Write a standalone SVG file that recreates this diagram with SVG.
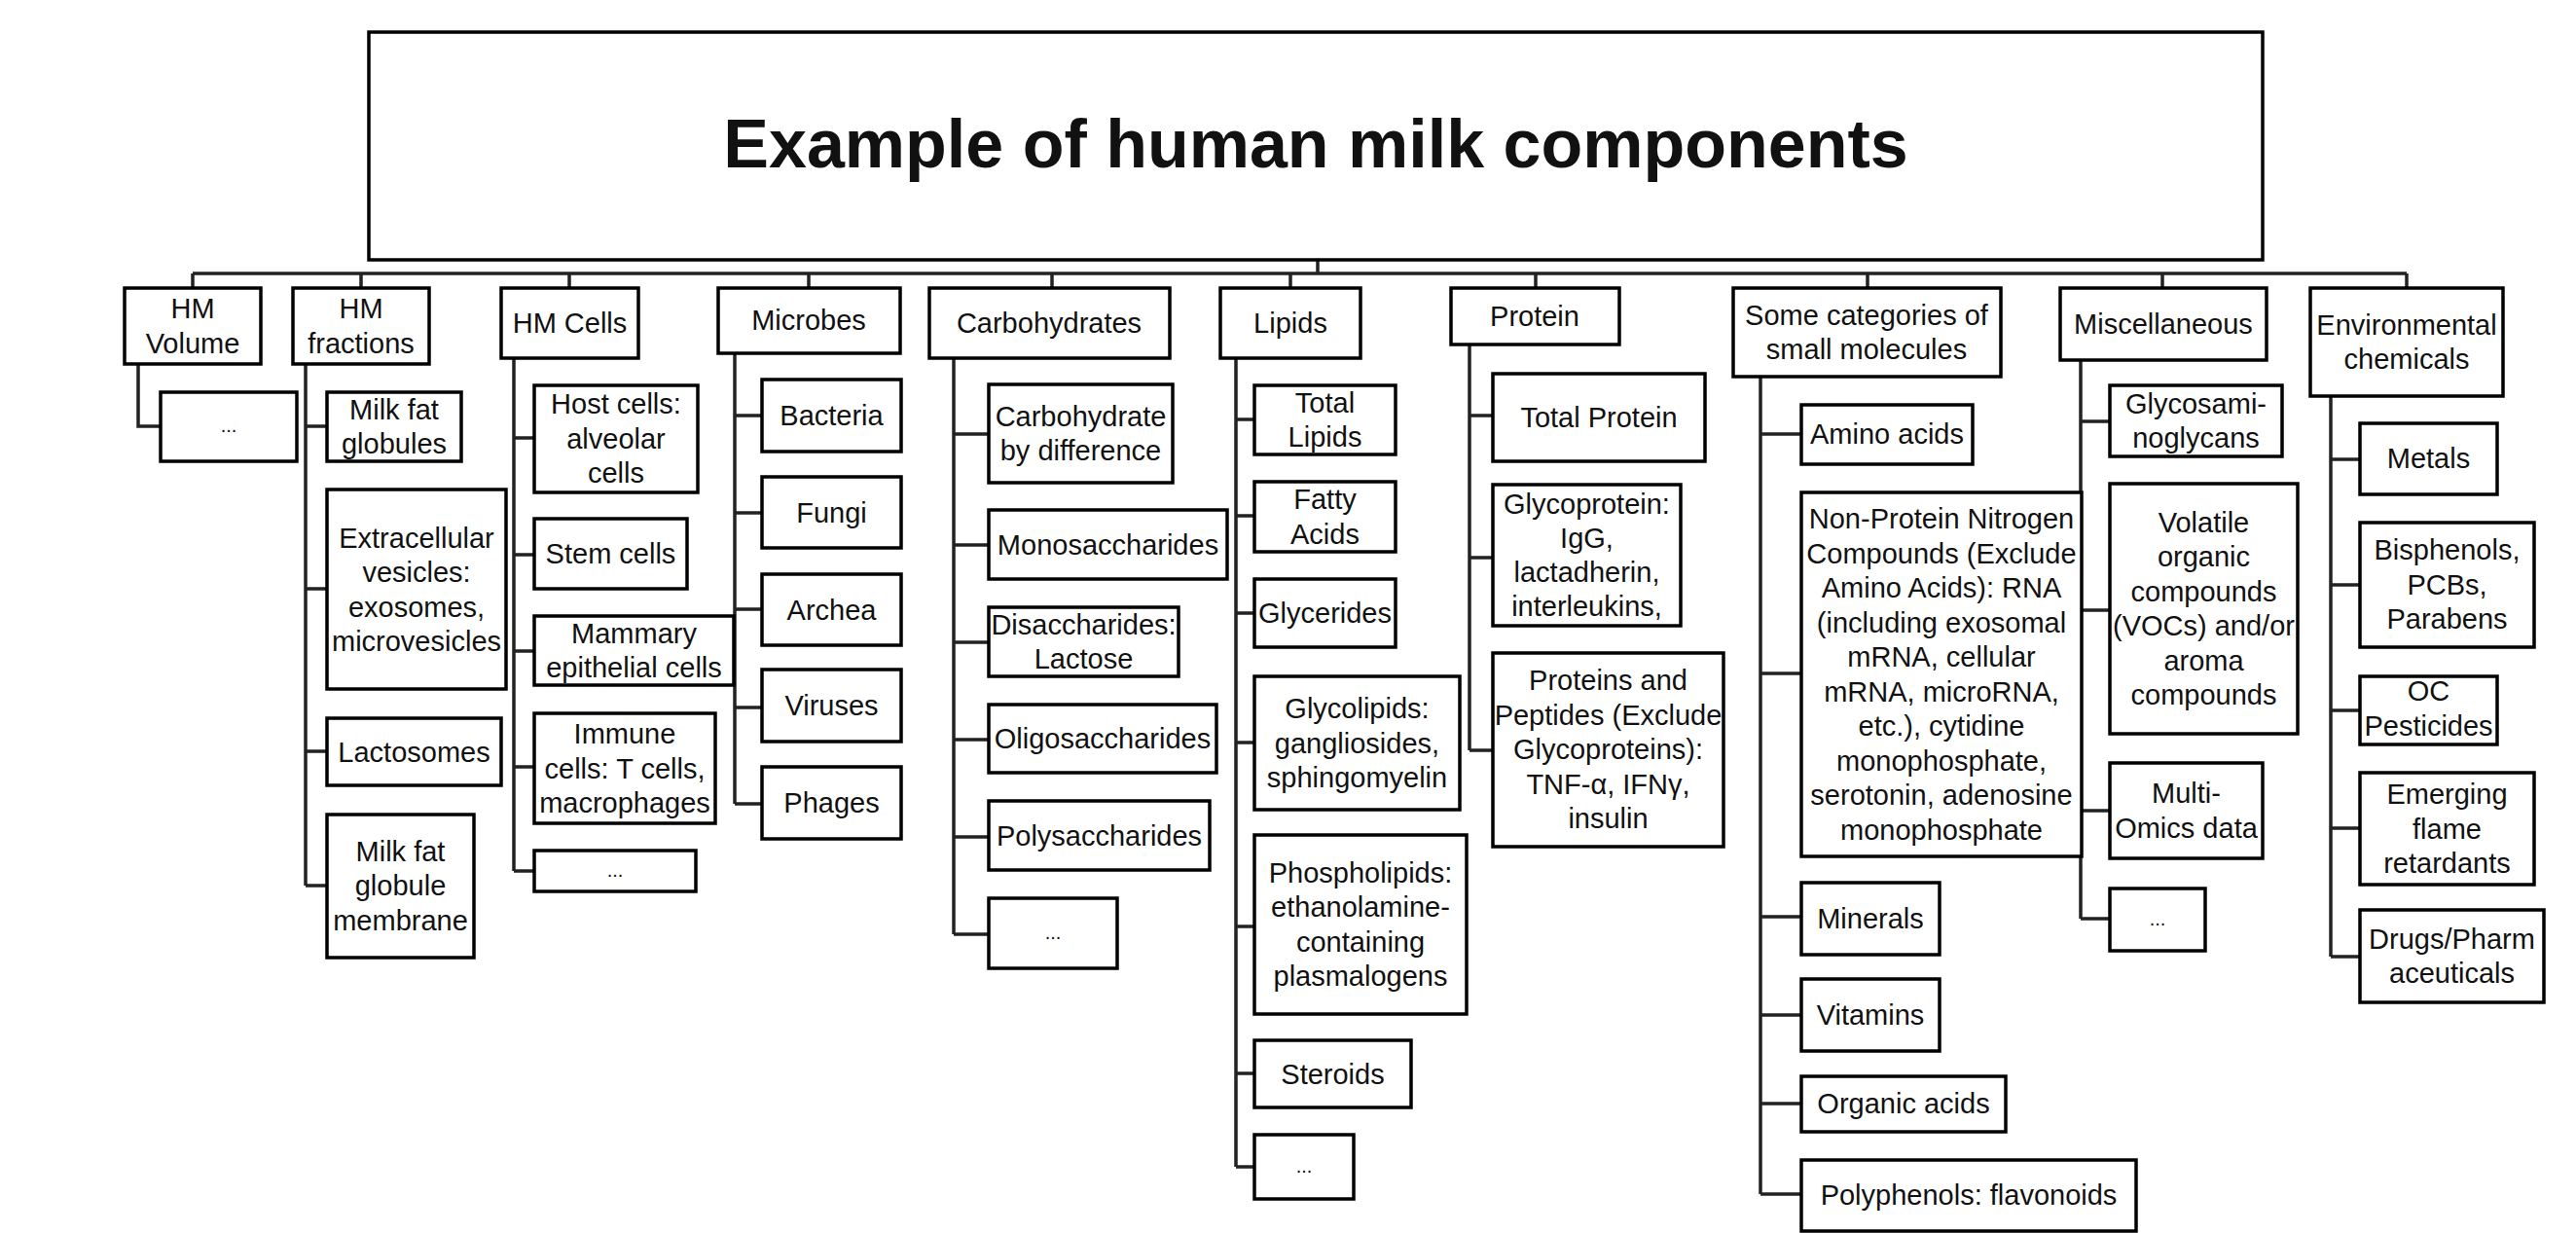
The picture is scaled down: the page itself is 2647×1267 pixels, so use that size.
<svg xmlns="http://www.w3.org/2000/svg" width="2647" height="1267" viewBox="0 0 2647 1267">
<style>
rect{fill:#fff;stroke:#000;stroke-width:3.5}
text{font-family:"Liberation Sans",Arial,sans-serif;font-size:29px;fill:#111;text-anchor:middle}
.title{font-size:70px;font-weight:bold}
.dots{font-size:20px}
#connectors path{fill:none;stroke:#222;stroke-width:3.5}
</style>
<rect width="2647" height="1267" style="fill:#fff;stroke:none"/>
<g id="connectors">
<path d="M1354 267V281M198 281H2473"/>
<path d="M198 281V296M371 281V296M585 281V296M831 281V296M1081 281V296M1326 281V296M1578 281V296M1919 281V296M2222 281V296M2473 281V296"/>
<path d="M142 374V438H165"/>
<path d="M314 374V910M314 438H336M314 605H336M314 772H336M314 910H336"/>
<path d="M528 368V895M528 450H549M528 570H549M528 669H549M528 788H549M528 895H549"/>
<path d="M755 363V826M755 427H783M755 527H783M755 626H783M755 727H783M755 826H783"/>
<path d="M980 368V960M980 446H1016M980 560H1016M980 660H1016M980 760H1016M980 860H1016M980 960H1016"/>
<path d="M1270 368V1199M1270 431H1289M1270 530H1289M1270 630H1289M1270 763H1289M1270 952H1289M1270 1103H1289M1270 1199H1289"/>
<path d="M1510 354V771M1510 427H1534M1510 573H1534M1510 771H1534"/>
<path d="M1809 387V1227M1809 446H1851M1809 692H1851M1809 942H1851M1809 1043H1851M1809 1134H1851M1809 1227H1851"/>
<path d="M2138 370V944M2138 433H2168M2138 627H2168M2138 833H2168M2138 944H2168"/>
<path d="M2395 407V983M2395 472H2425M2395 601H2425M2395 730H2425M2395 851H2425M2395 983H2425"/>
</g>
<g id="title"><rect x="379" y="33" width="1946" height="234"/><text class="title" x="1352" y="172">Example of human milk components</text></g>

<g id="hm-volume"><rect x="128" y="296" width="140" height="78"/><text x="198" y="327">HM</text><text x="198" y="363">Volume</text></g>
<g id="hm-fractions"><rect x="301" y="296" width="140" height="78"/><text x="371" y="327">HM</text><text x="371" y="363">fractions</text></g>
<g id="hm-cells"><rect x="515" y="296" width="141" height="72"/><text x="585.5" y="342">HM Cells</text></g>
<g id="microbes"><rect x="738" y="296" width="187" height="67"/><text x="831" y="339">Microbes</text></g>
<g id="carbohydrates"><rect x="955" y="296" width="247" height="72"/><text x="1078" y="342">Carbohydrates</text></g>
<g id="lipids"><rect x="1254" y="296" width="144" height="72"/><text x="1326" y="342">Lipids</text></g>
<g id="protein"><rect x="1491" y="296" width="173" height="58"/><text x="1577" y="335">Protein</text></g>
<g id="small-molecules"><rect x="1781" y="296" width="275" height="91"/><text x="1918" y="334">Some categories of</text><text x="1918" y="369">small molecules</text></g>
<g id="miscellaneous"><rect x="2117" y="296" width="212" height="74"/><text x="2223" y="343">Miscellaneous</text></g>
<g id="environmental"><rect x="2374" y="296" width="198" height="111"/><text x="2473" y="344">Environmental</text><text x="2473" y="379">chemicals</text></g>

<g id="hmv-more"><rect x="165" y="403" width="140" height="71"/><text class="dots" x="235" y="444">...</text></g>

<g id="milk-fat-globules"><rect x="336" y="403" width="138" height="71"/><text x="405" y="431">Milk fat</text><text x="405" y="466">globules</text></g>
<g id="extracellular-vesicles"><rect x="336" y="503" width="184" height="205"/><text x="428" y="563">Extracellular</text><text x="428" y="598">vesicles:</text><text x="428" y="634">exosomes,</text><text x="428" y="669">microvesicles</text></g>
<g id="lactosomes"><rect x="336" y="738" width="179" height="69"/><text x="425.5" y="783">Lactosomes</text></g>
<g id="mfgm"><rect x="336" y="837" width="151" height="147"/><text x="411.5" y="885">Milk fat</text><text x="411.5" y="920">globule</text><text x="411.5" y="956">membrane</text></g>

<g id="host-cells"><rect x="549" y="396" width="168" height="110"/><text x="633" y="425">Host cells:</text><text x="633" y="461">alveolar</text><text x="633" y="496">cells</text></g>
<g id="stem-cells"><rect x="549" y="533" width="157" height="72"/><text x="627.5" y="579">Stem cells</text></g>
<g id="mammary"><rect x="549" y="633" width="205" height="71"/><text x="651.5" y="661">Mammary</text><text x="651.5" y="696">epithelial cells</text></g>
<g id="immune"><rect x="549" y="733" width="186" height="113"/><text x="642" y="764">Immune</text><text x="642" y="800">cells: T cells,</text><text x="642" y="835">macrophages</text></g>
<g id="cells-more"><rect x="549" y="874" width="166" height="42"/><text class="dots" x="632" y="901">...</text></g>

<g id="bacteria"><rect x="783" y="390" width="143" height="74"/><text x="854.5" y="437">Bacteria</text></g>
<g id="fungi"><rect x="783" y="490" width="143" height="73"/><text x="854.5" y="537">Fungi</text></g>
<g id="archea"><rect x="783" y="590" width="143" height="73"/><text x="854.5" y="637">Archea</text></g>
<g id="viruses"><rect x="783" y="688" width="143" height="74"/><text x="854.5" y="735">Viruses</text></g>
<g id="phages"><rect x="783" y="788" width="143" height="74"/><text x="854.5" y="835">Phages</text></g>

<g id="carb-diff"><rect x="1016" y="395" width="189" height="101"/><text x="1110.5" y="438">Carbohydrate</text><text x="1110.5" y="473">by difference</text></g>
<g id="mono"><rect x="1016" y="524" width="245" height="71"/><text x="1138.5" y="570">Monosaccharides</text></g>
<g id="di"><rect x="1016" y="624" width="195" height="71"/><text x="1113.5" y="652">Disaccharides:</text><text x="1113.5" y="687">Lactose</text></g>
<g id="oligo"><rect x="1016" y="724" width="234" height="70"/><text x="1133" y="769">Oligosaccharides</text></g>
<g id="poly"><rect x="1016" y="823" width="227" height="71"/><text x="1129.5" y="869">Polysaccharides</text></g>
<g id="carb-more"><rect x="1016" y="923" width="132" height="72"/><text class="dots" x="1082" y="965">...</text></g>

<g id="total-lipids"><rect x="1289" y="396" width="145" height="71"/><text x="1361.5" y="424">Total</text><text x="1361.5" y="459">Lipids</text></g>
<g id="fatty-acids"><rect x="1289" y="495" width="145" height="72"/><text x="1361.5" y="523">Fatty</text><text x="1361.5" y="559">Acids</text></g>
<g id="glycerides"><rect x="1289" y="595" width="145" height="70"/><text x="1361.5" y="640">Glycerides</text></g>
<g id="glycolipids"><rect x="1289" y="695" width="211" height="137"/><text x="1394.5" y="738">Glycolipids:</text><text x="1394.5" y="774">gangliosides,</text><text x="1394.5" y="809">sphingomyelin</text></g>
<g id="phospholipids"><rect x="1289" y="858" width="218" height="184"/><text x="1398" y="907">Phospholipids:</text><text x="1398" y="942">ethanolamine-</text><text x="1398" y="978">containing</text><text x="1398" y="1013">plasmalogens</text></g>
<g id="steroids"><rect x="1289" y="1069" width="161" height="69"/><text x="1369.5" y="1114">Steroids</text></g>
<g id="lipids-more"><rect x="1289" y="1166" width="102" height="66"/><text class="dots" x="1340" y="1205">...</text></g>

<g id="total-protein"><rect x="1534" y="384" width="218" height="90"/><text x="1643" y="439">Total Protein</text></g>
<g id="glycoprotein"><rect x="1534" y="498" width="193" height="145"/><text x="1630.5" y="528">Glycoprotein:</text><text x="1630.5" y="563">IgG,</text><text x="1630.5" y="598">lactadherin,</text><text x="1630.5" y="633">interleukins,</text></g>
<g id="peptides"><rect x="1534" y="671" width="237" height="199"/><text x="1652.5" y="709">Proteins and</text><text x="1652.5" y="745">Peptides (Exclude</text><text x="1652.5" y="780">Glycoproteins):</text><text x="1652.5" y="816">TNF-α, IFNγ,</text><text x="1652.5" y="851">insulin</text></g>

<g id="amino-acids"><rect x="1851" y="416" width="176" height="61"/><text x="1939" y="456">Amino acids</text></g>
<g id="npn"><rect x="1851" y="506" width="288" height="374"/><text x="1995" y="543">Non-Protein Nitrogen</text><text x="1995" y="579">Compounds (Exclude</text><text x="1995" y="614">Amino Acids): RNA</text><text x="1995" y="650">(including exosomal</text><text x="1995" y="685">mRNA, cellular</text><text x="1995" y="721">mRNA, microRNA,</text><text x="1995" y="756">etc.), cytidine</text><text x="1995" y="792">monophosphate,</text><text x="1995" y="827">serotonin, adenosine</text><text x="1995" y="863">monophosphate</text></g>
<g id="minerals"><rect x="1851" y="907" width="142" height="74"/><text x="1922" y="954">Minerals</text></g>
<g id="vitamins"><rect x="1851" y="1006" width="142" height="74"/><text x="1922" y="1053">Vitamins</text></g>
<g id="organic-acids"><rect x="1851" y="1106" width="210" height="57"/><text x="1956" y="1144">Organic acids</text></g>
<g id="polyphenols"><rect x="1851" y="1192" width="344" height="73"/><text x="2023" y="1238">Polyphenols: flavonoids</text></g>

<g id="gag"><rect x="2168" y="396" width="177" height="73"/><text x="2256.5" y="425">Glycosami-</text><text x="2256.5" y="460">noglycans</text></g>
<g id="vocs"><rect x="2168" y="497" width="193" height="257"/><text x="2264.5" y="547">Volatile</text><text x="2264.5" y="582">organic</text><text x="2264.5" y="618">compounds</text><text x="2264.5" y="653">(VOCs) and/or</text><text x="2264.5" y="689">aroma</text><text x="2264.5" y="724">compounds</text></g>
<g id="multi-omics"><rect x="2168" y="784" width="157" height="98"/><text x="2246.5" y="825">Multi-</text><text x="2246.5" y="861">Omics data</text></g>
<g id="misc-more"><rect x="2168" y="913" width="98" height="64"/><text class="dots" x="2217" y="951">...</text></g>

<g id="metals"><rect x="2425" y="435" width="141" height="73"/><text x="2495.5" y="481">Metals</text></g>
<g id="bisphenols"><rect x="2425" y="537" width="179" height="128"/><text x="2514.5" y="575">Bisphenols,</text><text x="2514.5" y="611">PCBs,</text><text x="2514.5" y="646">Parabens</text></g>
<g id="oc-pesticides"><rect x="2425" y="695" width="141" height="70"/><text x="2495.5" y="720">OC</text><text x="2495.5" y="756">Pesticides</text></g>
<g id="flame-retardants"><rect x="2425" y="794" width="179" height="115"/><text x="2514.5" y="826">Emerging</text><text x="2514.5" y="862">flame</text><text x="2514.5" y="897">retardants</text></g>
<g id="drugs"><rect x="2425" y="935" width="189" height="95"/><text x="2519.5" y="975">Drugs/Pharm</text><text x="2519.5" y="1010">aceuticals</text></g>
</svg>
